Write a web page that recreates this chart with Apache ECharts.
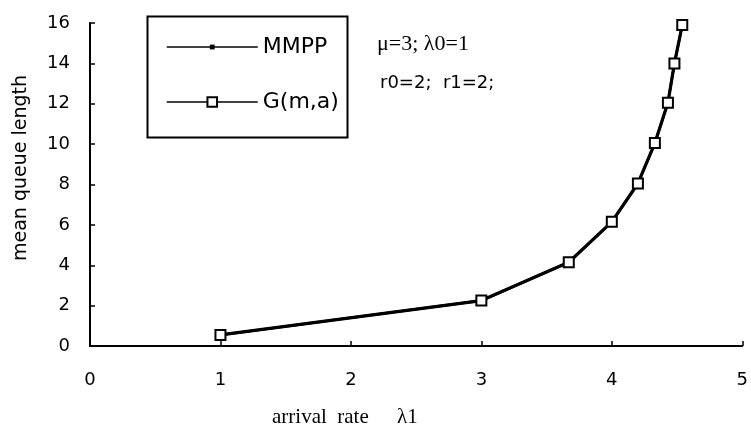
<!DOCTYPE html>
<html>
<head>
<meta charset="utf-8">
<script src="https://cdn.jsdelivr.net/npm/echarts@6/dist/echarts.min.js"></script>
<style>html,body{margin:0;padding:0;background:#fff;}#c{width:751px;height:427px;}</style>
</head>
<body>
<div id="c"></div>
<script>
const arrivalRate = [1, 3, 3.67, 4, 4.2, 4.33, 4.43, 4.48, 4.54];
const mmppQueue   = [0.55, 2.25, 4.15, 6.15, 8.05, 10.05, 12.05, 14.0, 15.9];
const gmaQueue    = [0.55, 2.25, 4.15, 6.15, 8.05, 10.05, 12.05, 14.0, 15.9];
const xTicks = [0, 1, 2, 3, 4, 5];
const yTicks = [0, 2, 4, 6, 8, 10, 12, 14, 16];

const chart = echarts.init(document.getElementById('c'), null, {renderer: 'canvas'});
const sans = '"DejaVu Sans", "Liberation Sans", Arial, sans-serif';
const serif = '"Liberation Serif", "Times New Roman", serif';

const pairs = (xs, ys) => xs.map((x, i) => [x, ys[i]]);

chart.setOption({
  animation: false,
  backgroundColor: '#fff',
  grid: {left: 90, right: 3, top: 23, bottom: 81},
  xAxis: {
    type: 'value', min: xTicks[0], max: xTicks[xTicks.length - 1], interval: 1,
    axisLine: {lineStyle: {color: '#000', width: 2}},
    axisTick: {inside: true, length: 5, lineStyle: {color: '#000', width: 1.5}},
    axisLabel: {color: '#000', fontFamily: sans, fontSize: 18, margin: 25},
    splitLine: {show: false}
  },
  yAxis: {
    type: 'value', min: yTicks[0], max: yTicks[yTicks.length - 1], interval: 2,
    axisLine: {show: true, lineStyle: {color: '#000', width: 2}},
    axisTick: {show: true, inside: true, length: 5, lineStyle: {color: '#000', width: 1.5}},
    axisLabel: {color: '#000', fontFamily: sans, fontSize: 18, margin: 20},
    splitLine: {show: false}
  },
  legend: [
    {
      data: ['MMPP'], left: 161, top: 31, itemWidth: 91, itemHeight: 6, itemGap: 6,
      textStyle: {color: '#000', fontFamily: sans, fontSize: 22},
      lineStyle: {width: 1.5}
    },
    {
      data: ['G(m,a)'], left: 161, top: 86, itemWidth: 91, itemHeight: 12, itemGap: 6,
      textStyle: {color: '#000', fontFamily: sans, fontSize: 22},
      lineStyle: {width: 1.5}
    }
  ],
  series: [
    {
      name: 'MMPP', type: 'line', data: pairs(arrivalRate, mmppQueue),
      symbol: 'rect', symbolSize: 5, z: 2,
      lineStyle: {color: '#000', width: 3.2},
      itemStyle: {color: '#000', borderColor: '#000', borderWidth: 0}
    },
    {
      name: 'G(m,a)', type: 'line', data: pairs(arrivalRate, gmaQueue),
      symbol: 'rect', symbolSize: 10, z: 3,
      lineStyle: {color: '#000', width: 2.5},
      itemStyle: {color: '#fff', borderColor: '#000', borderWidth: 2}
    }
  ],
  graphic: [
    {type: 'rect', left: 145, top: 14, shape: {width: 200, height: 121},
     style: {fill: 'none', stroke: '#000', lineWidth: 2}, z: 10},
    {type: 'text', x: 377, y: 44, style: {text: 'μ=3; λ0=1', font: '22px ' + serif, fill: '#000', verticalAlign: 'middle'}},
    {type: 'text', x: 380, y: 83, style: {text: 'r0=2;  r1=2;', font: '18px ' + sans, fill: '#000', verticalAlign: 'middle'}},
    {type: 'text', x: 272, y: 417, style: {text: 'arrival  rate', font: '21px ' + serif, fill: '#000', verticalAlign: 'middle'}},
    {type: 'text', x: 397, y: 417, style: {text: 'λ1', font: '21px ' + serif, fill: '#000', verticalAlign: 'middle'}},
    {type: 'text', x: 21, y: 168, rotation: Math.PI / 2,
     style: {text: 'mean queue length', font: '19px ' + sans, fill: '#000', align: 'center', verticalAlign: 'middle'}}
  ]
});
</script>
</body>
</html>
